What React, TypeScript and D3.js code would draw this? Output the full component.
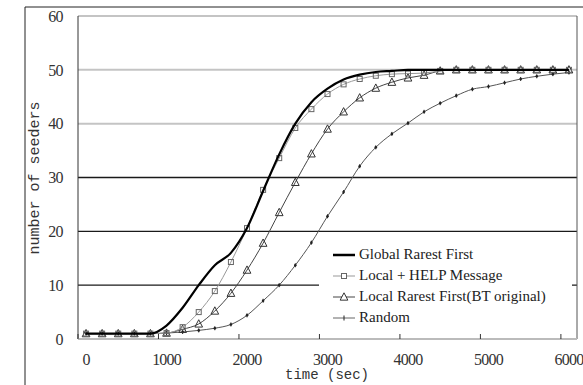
import React from "react";
import * as d3 from "d3";

const times = [0, 200, 400, 600, 800, 1000, 1200, 1400, 1600, 1800, 2000, 2200, 2400, 2600, 2800, 3000, 3200, 3400, 3600, 3800, 4000, 4200, 4400, 4600, 4800, 5000, 5200, 5400, 5600, 5800, 6000];
const globalRarest = [1, 1, 1, 1, 1, 2.5, 5.8, 10, 13.7, 16, 20.6, 27.5, 34.3, 40, 44, 46.5, 48.2, 49.1, 49.6, 49.8, 50, 50, 50, 50, 50, 50, 50, 50, 50, 50, 50];
const localHelp = [1, 1, 1, 1, 1, 1.1, 2.2, 5.0, 8.9, 14.3, 20.6, 27.7, 33.6, 39.2, 42.7, 45.5, 47.3, 48.3, 48.9, 49.2, 49.3, 49.4, 49.8, 50, 50, 50, 50, 50, 50, 50, 50];
const localRarest = [1, 1, 1, 1, 1, 1.1, 1.8, 2.8, 5.2, 8.5, 12.8, 17.8, 23.5, 29.1, 34.4, 39, 42.2, 44.8, 46.6, 47.7, 48.5, 49, 49.8, 50, 50, 50, 50, 50, 50, 50, 50];
const randomSel = [1, 1, 1, 1, 1, 1.1, 1.3, 1.6, 2.0, 2.7, 4.4, 7.1, 10, 13.7, 17.9, 22.8, 27.3, 32.1, 35.6, 38.1, 40.1, 42.2, 43.8, 45.2, 46.4, 46.9, 47.6, 48.3, 48.8, 49.2, 49.5];

const xTicks = [0, 1000, 2000, 3000, 4000, 5000, 6000];
const yTicks = [0, 10, 20, 30, 40, 50, 60];
const darkGridValues = [10, 20, 30];
const legendLabels = ["Global Rarest First", "Local + HELP Message", "Local Rarest First(BT original)", "Random"];

const W = 583;
const H = 385;

export default function App() {
  const x = d3.scaleLinear().domain([-100, 6100]).range([78, 577]);
  const y = d3.scaleLinear().domain([0, 60]).range([339, 16]);

  const mk = (vals: number[]) =>
    d3
      .line<number>()
      .x((_, i) => x(times[i]))
      .y((v) => y(v))
      .curve(d3.curveMonotoneX)(vals) || "";

  const tri = (cx: number, cy: number, s: number) =>
    `M${cx},${cy - s * 0.6}L${cx + s * 0.55},${cy + s * 0.45}L${cx - s * 0.55},${cy + s * 0.45}Z`;

  const serif = "Liberation Serif, DejaVu Serif, Times New Roman, serif";
  const mono = "Liberation Mono, DejaVu Sans Mono, Courier New, monospace";

  const legendX = 333;
  const legendY0 = 255;
  const legendDy = 21;

  return (
    <svg
      width={W}
      height={H}
      style={{ position: "absolute", left: 0, top: 0, display: "block", background: "#fff" }}
    >
      {/* outer frame */}
      <line x1={25} y1={7} x2={W} y2={7} stroke="#222" strokeWidth={1} />
      <line x1={25} y1={7} x2={25} y2={H} stroke="#222" strokeWidth={1} />

      {/* gridlines */}
      {yTicks
        .filter((t) => t > 0)
        .map((t) => {
          const dark = darkGridValues.includes(t);
          return (
            <line
              key={"g" + t}
              x1={78}
              x2={577}
              y1={y(t)}
              y2={y(t)}
              stroke={dark ? "#1a1a1a" : "#c4c4c4"}
              strokeWidth={dark ? 1.4 : 2}
            />
          );
        })}

      {/* axes */}
      <line x1={78} y1={16} x2={78} y2={339} stroke="#333" strokeWidth={1} />
      <line x1={577} y1={16} x2={577} y2={339} stroke="#555" strokeWidth={1} />
      <line x1={78} y1={339} x2={577} y2={339} stroke="#bbb" strokeWidth={2} />
      {xTicks.map((t) => (
        <line key={"xt" + t} x1={x(t - 100)} x2={x(t - 100)} y1={334} y2={339} stroke="#333" strokeWidth={1} />
      ))}

      {/* tick labels */}
      {yTicks.map((t) => (
        <text
          key={"yl" + t}
          x={63}
          y={y(t) + 2}
          textAnchor="end"
          dominantBaseline="middle"
          style={{ fontFamily: serif }}
          fontSize={16}
          letterSpacing={-0.6}
          fill="#333"
        >
          {t}
        </text>
      ))}
      {xTicks.map((t) => (
        <text
          key={"xl" + t}
          x={x(t)}
          y={361}
          textAnchor="middle"
          dominantBaseline="middle"
          style={{ fontFamily: serif }}
          fontSize={16}
          letterSpacing={-0.8}
          fill="#333"
        >
          {t}
        </text>
      ))}

      {/* axis titles */}
      <text
        transform="translate(35,178) rotate(-90)"
        textAnchor="middle"
        dominantBaseline="middle"
        style={{ fontFamily: mono }}
        fontSize={15}
        fill="#333"
      >
        number of seeders
      </text>
      <text x={327} y={375} textAnchor="middle" dominantBaseline="middle" style={{ fontFamily: mono }} fontSize={14} fill="#333">
        time (sec)
      </text>

      {/* series */}
      <path d={mk(randomSel)} fill="none" stroke="#555" strokeWidth={1} />
      {randomSel.map((v, i) => (
        <g key={"r" + i}>
          <line x1={x(times[i])} x2={x(times[i])} y1={y(v) - 2} y2={y(v) + 2} stroke="#222" strokeWidth={1} />
          <circle cx={x(times[i])} cy={y(v)} r={1.3} fill="#222" />
        </g>
      ))}

      <path d={mk(localRarest)} fill="none" stroke="#444" strokeWidth={1} />
      {localRarest.map((v, i) => (
        <path key={"t" + i} d={tri(x(times[i]), y(v), 7)} fill="none" stroke="#333" strokeWidth={1} />
      ))}

      <path d={mk(localHelp)} fill="none" stroke="#999" strokeWidth={1} />
      {localHelp.map((v, i) => (
        <rect
          key={"s" + i}
          x={x(times[i]) - 2.5}
          y={y(v) - 2.5}
          width={5}
          height={5}
          fill="none"
          stroke="#666"
          strokeWidth={1}
        />
      ))}

      <path d={mk(globalRarest)} fill="none" stroke="#000" strokeWidth={2.2} />

      {/* legend */}
      <rect x={319} y={240} width={253} height={88} fill="#fff" />
      {legendLabels.map((lab, i) => {
        const ly = legendY0 + i * legendDy;
        const cx = legendX + 11;
        return (
          <g key={"lg" + i}>
            <line
              x1={legendX}
              x2={legendX + 22}
              y1={ly}
              y2={ly}
              stroke={i === 0 ? "#000" : i === 1 ? "#999" : i === 2 ? "#444" : "#666"}
              strokeWidth={i === 0 ? 2.5 : 1}
            />
            {i === 1 && <rect x={cx - 2.5} y={ly - 2.5} width={5} height={5} fill="#fff" stroke="#666" />}
            {i === 2 && <path d={tri(cx, ly, 7)} fill="#fff" stroke="#333" />}
            {i === 3 && <line x1={cx} x2={cx} y1={ly - 2.5} y2={ly + 2.5} stroke="#222" />}
            <text x={359} y={ly + 1} dominantBaseline="middle" style={{ fontFamily: serif }} fontSize={15} fill="#222">
              {lab}
            </text>
          </g>
        );
      })}
    </svg>
  );
}
